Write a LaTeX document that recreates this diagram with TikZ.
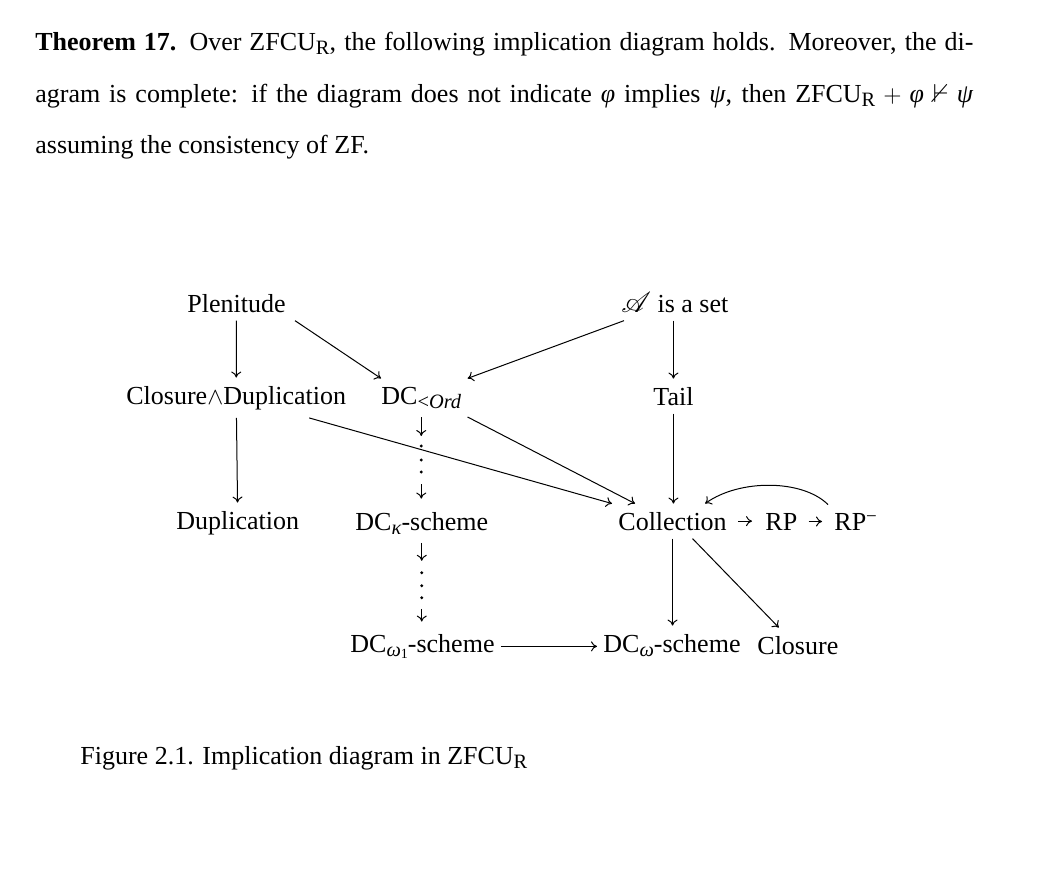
\documentclass[tikz,border=0pt]{standalone}
\usepackage{amssymb}
\usepackage{mathrsfs}
\usepackage{fontspec}
\setmainfont{Liberation Serif}
\usetikzlibrary{arrows.meta,calc}
\newcommand\lsub[1]{\raisebox{-2.2pt}{\fontsize{10.2}{11}\selectfont #1}}
\newcommand\lsup[1]{\raisebox{4pt}{\fontsize{9.5}{10}\selectfont #1}}
\newcommand\llsub[1]{\raisebox{-1.2pt}{\fontsize{7}{8}\selectfont #1}}
\tikzset{
  lab/.style={inner xsep=3pt, inner ysep=4pt, anchor=base west},
  txt/.style={inner sep=0pt, anchor=base west},
  arr/.style={-{To[length=3pt,width=5pt]}, line width=0.5pt},
  vdot/.style={fill=black}
}
\begin{document}
\begin{tikzpicture}[x=0.5pt,y=-0.5pt,font=\fontsize{13}{15.6}\selectfont]
\useasboundingbox[fill=white] (0,0) rectangle (1044,894);

% theorem text
\node[txt] (l1) at (35,50) {\makebox[469pt][s]{\textbf{Theorem 17.} Over ZFCU\lsub{R}, the following implication diagram holds. Moreover, the di-}};
\node[txt] (l2) at (35,102) {\makebox[469pt][s]{agram is complete: if the diagram does not indicate \textit{φ} implies \textit{ψ}, then ZFCU\lsub{R}\hspace{4pt}$+$\hspace{4pt}\textit{φ}\hspace{4.5pt}$\nvdash$\hspace{4pt}\textit{ψ}}};
\node[txt] (l3) at (35,153) {assuming the consistency of ZF.};

% diagram nodes
\node[lab] (plen) at (181,312) {Plenitude};
\node[lab] (aset) at (615,312) {{\fontsize{14}{16}\selectfont$\mathscr{A}$} is a set};
\node[lab] (cd) at (120,404) {Closure$\wedge$Duplication};
\node[lab] (dcord) at (375,404) {DC\lsub{<\textit{Ord}}};
\node[lab] (tail) at (647,405) {Tail};
\node[lab] (dup) at (170,529) {Duplication};
\node[lab] (dck) at (349,530) {DC\lsub{\textit{κ}}-scheme};
\node[lab] (coll) at (612,530) {Collection};
\node[lab] (rp) at (759,530) {RP};
\node[lab] (rpm) at (828,530) {RP\lsup{−}};
\node[lab] (dcw1) at (344,652) {DC\lsub{\textit{ω}\llsub{1}}-scheme};
\node[lab] (dcw) at (597,652) {DC\lsub{\textit{ω}}-scheme};
\node[lab] (clos) at (751,654) {Closure};

% caption
\node[txt] (cap) at (80,764) {Figure 2.1. Implication diagram in ZFCU\lsub{R}};

% connectors
\draw[arr] (plen) -- (cd);
\draw[arr] ([xshift=1.5pt]plen.south east) -- ([xshift=3pt]dcord.north west);
\draw[arr] ([xshift=4.5pt]aset.south west) -- ([xshift=0pt]dcord.north east);
\draw[arr] (aset.south -| tail.north) -- (tail.north);
\draw[arr] (cd) -- (dup);
\draw[arr] ([xshift=36.5pt]cd.south) -- (coll.north west);
\draw[arr] (dcord.south east) -- ([xshift=11.5pt]coll.north west);
\draw[arr] (tail.south) -- (tail.south |- coll.north);
\draw[arr] (coll.south) -- (coll.south |- dcw.north);
\draw[arr] ([xshift=10pt]coll.south) -- ([xshift=-9.5pt]clos.north);
\draw[arr] (dcw1.east) -- (dcw1.east -| dcw.west);
\draw[arr, shorten <=2.5pt, shorten >=3.5pt] (coll.east) -- (coll.east -| rp.west);
\draw[arr, shorten <=2.5pt, shorten >=3pt] (rp.east) -- (rp.east -| rpm.west);
\draw[arr] (rpm.north west) .. controls +(-25,-25) and +(35,-25) .. ([xshift=-14pt]coll.north east);

% dotted implication DC_<Ord -> DC_kappa
\coordinate (a1) at ($(dcord.south)+(0,19)$);
\coordinate (a2) at ($(dcord.south)+(0,67)$);
\draw[arr] (dcord.south) -- (a1);
\fill[vdot] ($(dcord.south)+(0,29)$) circle[radius=0.8pt];
\fill[vdot] ($(dcord.south)+(0,43)$) circle[radius=0.8pt];
\fill[vdot] ($(dcord.south)+(0,55)$) circle[radius=0.8pt];
\draw[arr, shorten >=2.5pt] (a2) -- (a2 |- dck.north);

% dotted implication DC_kappa -> DC_omega1
\coordinate (b1) at ($(dck.south)+(0,18)$);
\coordinate (b2) at ($(dck.south)+(0,66)$);
\draw[arr] (dck.south) -- (b1);
\fill[vdot] ($(dck.south)+(0,30)$) circle[radius=0.8pt];
\fill[vdot] ($(dck.south)+(0,43)$) circle[radius=0.8pt];
\fill[vdot] ($(dck.south)+(0,55)$) circle[radius=0.8pt];
\draw[arr, shorten >=2pt] (b2) -- (b2 |- dcw1.north);
\end{tikzpicture}
\end{document}
